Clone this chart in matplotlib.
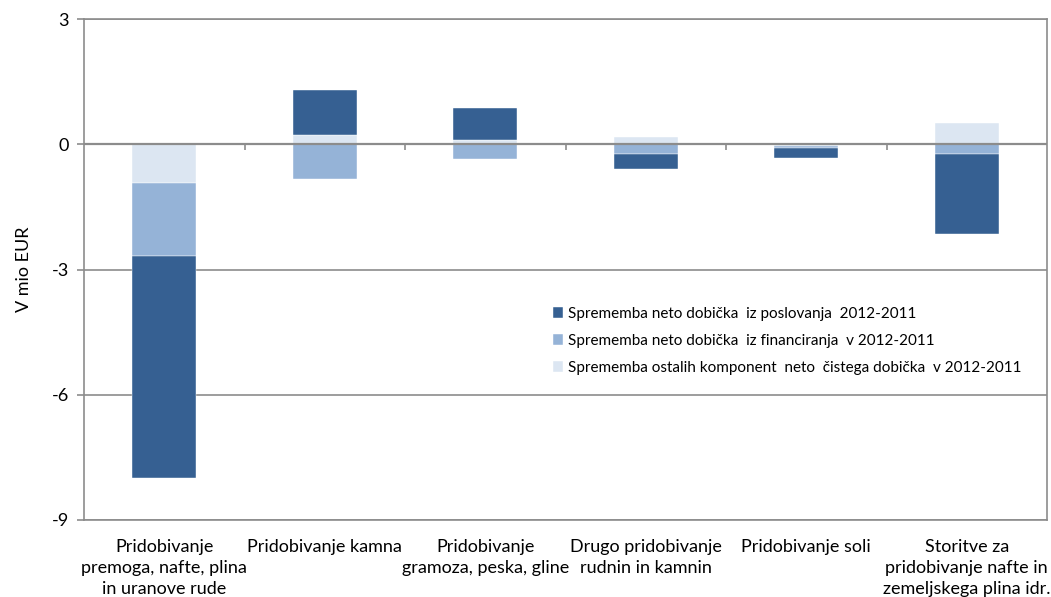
import matplotlib
matplotlib.use("Agg")
import matplotlib.pyplot as plt
import numpy as np

categories = [
    "Pridobivanje\npremoga, nafte, plina\nin uranove rude",
    "Pridobivanje kamna",
    "Pridobivanje\ngramoza, peska, gline",
    "Drugo pridobivanje\nrudnin in kamnin",
    "Pridobivanje soli",
    "Storitve za\npridobivanje nafte in\nzemeljskega plina idr.",
]
operating = [-5.32, 1.10, 0.77, -0.36, -0.24, -1.91]
financing = [-1.76, -0.83, -0.35, -0.23, -0.06, -0.23]
other = [-0.92, 0.21, 0.10, 0.18, -0.03, 0.50]

labels = [
    "Sprememba neto dobička  iz poslovanja  2012-2011",
    "Sprememba neto dobička  iz financiranja  v 2012-2011",
    "Sprememba ostalih komponent  neto  čistega dobička  v 2012-2011",
]
colors = ["#366092", "#95B3D7", "#DCE6F2"]
yticks = [-9, -6, -3, 0, 3]

plt.rcParams['font.family'] = ['Lato', 'DejaVu Sans']

fig = plt.figure(figsize=(10.51, 5.97), dpi=100)
ax = fig.add_axes([84 / 1051, 1 - 520 / 597, 963 / 1051, 501 / 597])

x = np.arange(len(categories))
width = 0.4
# Excel-style stacking: series stacked in order other, financing, operating;
# positives stack upward from 0, negatives downward from 0
order = [(other, colors[2], labels[2]), (financing, colors[1], labels[1]), (operating, colors[0], labels[0])]
pos_base = np.zeros(len(categories))
neg_base = np.zeros(len(categories))
handles = {}
for vals, col, lab in order:
    v = np.array(vals)
    bottoms = np.where(v >= 0, pos_base, neg_base)
    h = ax.bar(x, v, width, bottom=bottoms, color=col, label=lab, zorder=3,
               edgecolor="white", linewidth=0.3)
    handles[lab] = h
    pos_base = pos_base + np.where(v >= 0, v, 0)
    neg_base = neg_base + np.where(v < 0, v, 0)

ax.set_xlim(-0.5, len(categories) - 0.5)
ax.set_ylim(-9, 3)
ax.set_yticks(yticks)
ax.set_yticklabels([str(t) for t in yticks], fontsize=13)
ax.yaxis.grid(True, color="#8c8c8c", linewidth=1.2, zorder=0)
ax.tick_params(axis="y", direction="out", length=5, color="#8c8c8c", width=1.2, pad=6)
ax.set_xticks(x)
ax.set_xticklabels(categories, fontsize=13, linespacing=1.35)
ax.tick_params(axis="x", length=0, pad=14)
for s in ax.spines.values():
    s.set_color("#8c8c8c")
    s.set_linewidth(1.2)

ax.axhline(0, color="#8c8c8c", linewidth=1.6, zorder=4)
sec = ax.secondary_xaxis(9 / 12)
sec.set_xticks(np.arange(0.5, len(categories) - 0.5, 1.0))
sec.set_xticklabels([])
sec.tick_params(direction="in", length=4, color="#8c8c8c", width=1.2)
sec.spines["bottom"].set_visible(False)
sec.spines["top"].set_visible(False)

ax.set_ylabel("V mio EUR", fontsize=13, labelpad=14)

ax.legend([handles[l] for l in labels], labels, frameon=False,
          loc="upper left", bbox_to_anchor=(455 / 963, (520 - 293) / 501),
          handlelength=0.7, handleheight=0.7, handletextpad=0.3,
          labelspacing=0.85, prop={'size': 11})

fig.savefig("out.png", dpi=100)
